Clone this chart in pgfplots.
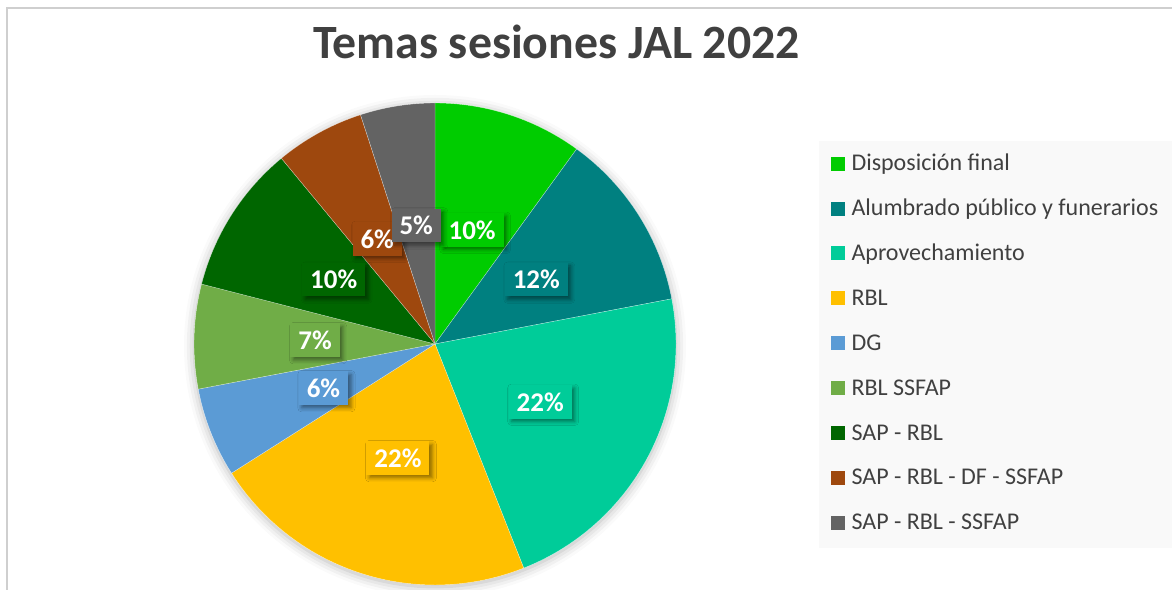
\documentclass[border=0pt]{standalone}
\usepackage{fontspec}
\setmainfont{Carlito}
\usepackage{pgfplots}
\usepackage{pgfplotstable}
\usetikzlibrary{shadows.blur}
\pgfplotsset{compat=1.18}

% slice colours, in legend order
\definecolor{c0}{HTML}{00CC00}
\definecolor{c1}{HTML}{008080}
\definecolor{c2}{HTML}{00CC99}
\definecolor{c3}{HTML}{FFC000}
\definecolor{c4}{HTML}{5B9BD5}
\definecolor{c5}{HTML}{70AD47}
\definecolor{c6}{HTML}{006600}
\definecolor{c7}{HTML}{9E480E}
\definecolor{c8}{HTML}{636363}
\definecolor{txt}{HTML}{404040}
\definecolor{legbg}{HTML}{F9F9F9}
\definecolor{frame}{HTML}{CFCFCF}

\tikzset{
	lbl/.style={
		font=\fontsize{27}{30}\selectfont\bfseries, text=white,
		inner xsep=8pt, inner ysep=7.5pt, text height=18.5pt, text depth=0pt,
		blur shadow={shadow xshift=3pt, shadow yshift=-3pt,
			shadow blur radius=4pt, shadow opacity=45},
	},
}

\pgfplotstableread[col sep=comma]{
name,value
Disposición final,10
Alumbrado público y funerarios,12
Aprovechamiento,22
RBL,22
DG,6
RBL SSFAP,7
SAP - RBL,10
SAP - RBL - DF - SSFAP,6
SAP - RBL - SSFAP,5
}\piedata

\begin{document}
\begin{tikzpicture}
\begin{axis}[
	width=1172pt, height=590pt, scale only axis,
	xmin=-435, xmax=737, ymin=-246, ymax=344,
	hide axis, clip=false,
	legend style={
		at={(axis cs:395.5,191.3)}, anchor=north west,
		draw=none, fill=none, inner sep=0pt, outer sep=0pt,
		row sep=23.4pt, column sep=5pt,
		font=\fontsize{24}{28}\selectfont, text=txt,
		cells={anchor=base west, inner sep=0pt, text height=16pt, text depth=5pt},
	},
	legend image code/.code={\path[#1,draw=none] (0pt,0pt) rectangle (14pt,14pt);},
]
% frame of the chart area
\draw[frame, line width=1.5pt] (axis cs:-428,-246) -- (axis cs:-428,336) -- (axis cs:737,336);
% legend panel
\fill[legbg] (axis cs:384,203) rectangle (axis cs:737,-204);
% title
\node[anchor=base, text=txt, font=\fontsize{47.8}{56}\selectfont\bfseries]
	at (axis cs:121.5,285) {Temas sesiones JAL 2022};
% soft shadow under the pie
\node[circle, minimum size=482pt, inner sep=0pt, fill=white,
	blur shadow={shadow xshift=0pt, shadow yshift=-2pt,
		shadow blur radius=10pt, shadow opacity=30}] at (axis cs:0,0) {};

% slices, clockwise from 12 o'clock
\xdef\cum{0}
\pgfplotsinvokeforeach{0,...,8}{
	\pgfplotstablegetelem{#1}{value}\of\piedata
	\let\pv\pgfplotsretval
	\pgfplotstablegetelem{#1}{name}\of\piedata
	\let\pname\pgfplotsretval
	\pgfmathsetmacro\angS{90-3.6*\cum}
	\pgfmathsetmacro\angE{90-3.6*(\cum+\pv)}
	\edef\doplot{\noexpand\addplot[fill=c#1, draw=white, draw opacity=0.5,
		line width=0.4pt, data cs=polar, domain=\angE:\angS, samples=60]
		{241} -- (axis cs:0,0) -- cycle;}
	\doplot
	\addlegendentryexpanded{\pname}
	\pgfmathsetmacro\newcum{\cum+\pv}
	\xdef\cum{\newcum}
}

% data labels at half the radius
\xdef\cum{0}
\pgfplotsinvokeforeach{0,...,8}{
	\pgfplotstablegetelem{#1}{value}\of\piedata
	\let\pv\pgfplotsretval
	\pgfmathsetmacro\angM{90-3.6*(\cum+\pv/2)}
	\pgfmathsetmacro\lx{120*cos(\angM)}
	\pgfmathsetmacro\ly{120*sin(\angM)}
	\pgfmathtruncatemacro\pct{\pv}
	\edef\dolabel{\noexpand\node[lbl, fill=c#1] at (axis cs:\lx,\ly) {\pct\noexpand\%};}
	\dolabel
	\pgfmathsetmacro\newcum{\cum+\pv}
	\xdef\cum{\newcum}
}
\end{axis}
\pgfresetboundingbox
\path (current axis.south west) rectangle (current axis.north east);
\end{tikzpicture}
\end{document}
